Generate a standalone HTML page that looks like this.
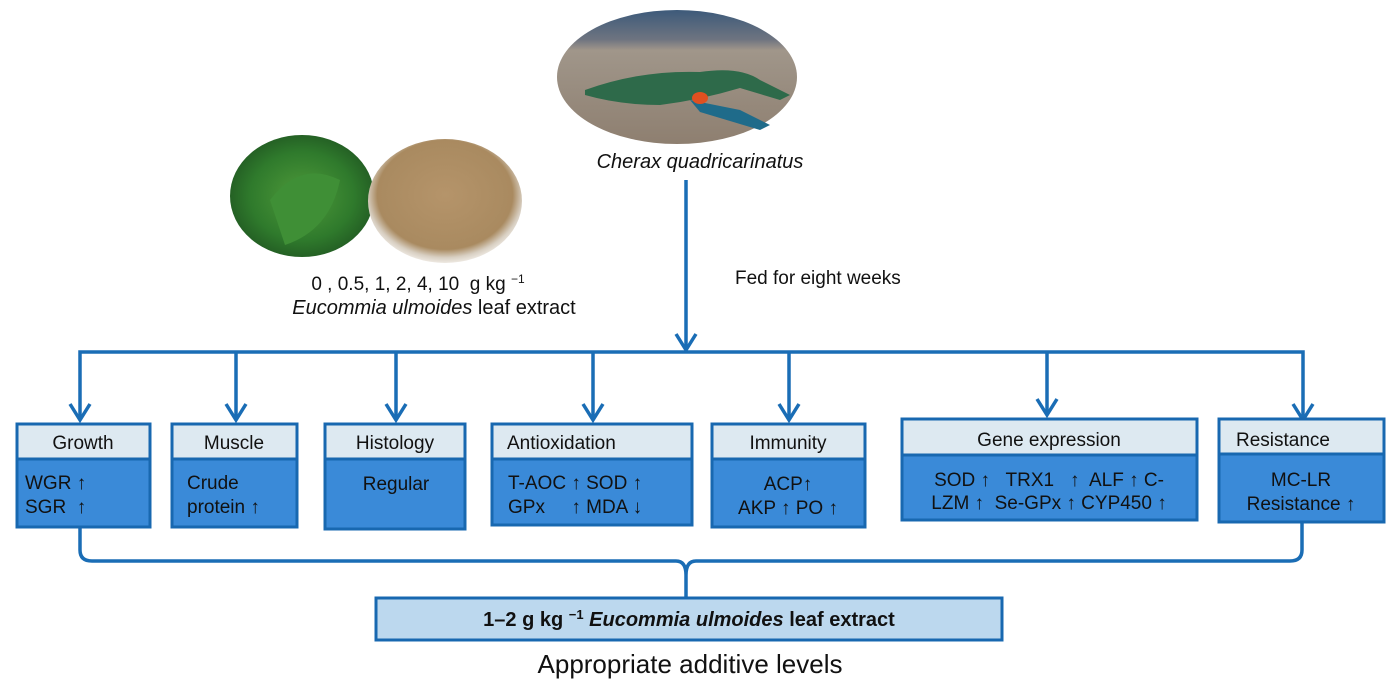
<!DOCTYPE html>
<html><head><meta charset="utf-8"><style>
html,body{margin:0;padding:0;background:#fff;}
svg{display:block;font-family:"Liberation Sans",Arial,sans-serif;}
text{white-space:pre;}
</style></head><body>
<svg width="1400" height="690" viewBox="0 0 1400 690" xmlns="http://www.w3.org/2000/svg">
<defs>
<radialGradient id="leaf" cx="50%" cy="50%" r="60%"><stop offset="0" stop-color="#4f9a3a"/><stop offset="0.6" stop-color="#2f7a2c"/><stop offset="1" stop-color="#1d4f1f"/></radialGradient>
<radialGradient id="pow" cx="50%" cy="45%" r="55%"><stop offset="0" stop-color="#b5946a"/><stop offset="0.8" stop-color="#a98a60"/><stop offset="0.92" stop-color="#d8cfc2"/><stop offset="1" stop-color="#eee9e2"/></radialGradient>
<linearGradient id="cray" x1="0" y1="0" x2="0" y2="1"><stop offset="0" stop-color="#3d5a7a"/><stop offset="0.22" stop-color="#6e7480"/><stop offset="0.3" stop-color="#a0968a"/><stop offset="1" stop-color="#8e7f70"/></linearGradient>
</defs>
<ellipse cx="677" cy="77" rx="120" ry="67" fill="url(#cray)"/>
<path d="M585 90 Q640 70 700 72 Q740 66 760 80 L790 95 L780 100 L740 88 Q700 100 660 105 Q620 105 585 95Z" fill="#2e6a4a"/>
<path d="M690 100 L740 110 L770 125 L760 130 L700 112Z" fill="#1f6b8a"/>
<ellipse cx="700" cy="98" rx="8" ry="6" fill="#e05020"/>
<ellipse cx="302" cy="196" rx="72" ry="61" fill="url(#leaf)"/>
<path d="M270 200 Q300 160 340 180 Q330 230 285 245Z" fill="#3f8f36"/>
<ellipse cx="445" cy="201" rx="77" ry="62" fill="url(#pow)"/>
<g fill="#111" font-size="19">
<text x="700" y="168" text-anchor="middle" font-style="italic" font-size="20">Cherax quadricarinatus</text>
<text x="418" y="290" text-anchor="middle">0 , 0.5, 1, 2, 4, 10  g kg <tspan font-size="12" dy="-7">−1</tspan></text>
<text x="434" y="314" text-anchor="middle" font-size="20"><tspan font-style="italic">Eucommia ulmoides</tspan> leaf extract</text>
<text x="735" y="284">Fed for eight weeks</text>
</g>
<g stroke="#1a6db5" stroke-width="3.5" fill="none">
<line x1="686" y1="180" x2="686" y2="350"/>
<polyline points="676,334 686,350 696,334"/>
<path d="M80 418 V352 H1303 V418"/>
<line x1="236" y1="352" x2="236" y2="418"/>
<line x1="396" y1="352" x2="396" y2="418"/>
<line x1="593" y1="352" x2="593" y2="418"/>
<line x1="789" y1="352" x2="789" y2="418"/>
<line x1="1047" y1="352" x2="1047" y2="413"/>
<polyline points="70,404 80,420 90,404"/>
<polyline points="226,404 236,420 246,404"/>
<polyline points="386,404 396,420 406,404"/>
<polyline points="583,404 593,420 603,404"/>
<polyline points="779,404 789,420 799,404"/>
<polyline points="1037,399 1047,415 1057,399"/>
<polyline points="1293,404 1303,420 1313,404"/>
<path d="M80 525 V550 Q80 561 92 561 H676 Q686 561 686 575 V598 M686 575 Q686 561 696 561 H1290 Q1302 561 1302 550 V523"/>
</g>
<g stroke="#1868b0" stroke-width="3">
<rect x="17" y="424" width="133" height="103" fill="#3a8ad8"/><rect x="17" y="424" width="133" height="35" fill="#dde9f1"/>
<rect x="172" y="424" width="125" height="103" fill="#3a8ad8"/><rect x="172" y="424" width="125" height="35" fill="#dde9f1"/>
<rect x="325" y="424" width="140" height="105" fill="#3a8ad8"/><rect x="325" y="424" width="140" height="35" fill="#dde9f1"/>
<rect x="492" y="424" width="200" height="101" fill="#3a8ad8"/><rect x="492" y="424" width="200" height="35" fill="#dde9f1"/>
<rect x="712" y="424" width="153" height="103" fill="#3a8ad8"/><rect x="712" y="424" width="153" height="35" fill="#dde9f1"/>
<rect x="902" y="419" width="295" height="101" fill="#3a8ad8"/><rect x="902" y="419" width="295" height="36" fill="#dde9f1"/>
<rect x="1219" y="419" width="165" height="103" fill="#3a8ad8"/><rect x="1219" y="419" width="165" height="35" fill="#dde9f1"/>
<rect x="376" y="598" width="626" height="42" fill="#bcd8ee"/>
</g>
<g fill="#111" font-size="19">
<text x="83" y="449" text-anchor="middle">Growth</text>
<text x="234" y="449" text-anchor="middle">Muscle</text>
<text x="395" y="449" text-anchor="middle">Histology</text>
<text x="507" y="449">Antioxidation</text>
<text x="788" y="449" text-anchor="middle">Immunity</text>
<text x="1049" y="446" text-anchor="middle">Gene expression</text>
<text x="1236" y="446">Resistance</text>
<text x="25" y="489">WGR ↑</text><text x="25" y="513">SGR  ↑</text>
<text x="187" y="489">Crude</text><text x="187" y="513">protein ↑</text>
<text x="396" y="490" text-anchor="middle">Regular</text>
<text x="508" y="489">T-AOC ↑ SOD ↑</text><text x="508" y="513">GPx     ↑ MDA ↓</text>
<text x="788" y="490" text-anchor="middle">ACP↑</text><text x="788" y="514" text-anchor="middle">AKP ↑ PO ↑</text>
<text x="1049" y="486" text-anchor="middle">SOD ↑   TRX1   ↑  ALF ↑ C-</text><text x="1049" y="509" text-anchor="middle">LZM ↑  Se-GPx ↑ CYP450 ↑</text>
<text x="1301" y="486" text-anchor="middle">MC-LR</text><text x="1301" y="510" text-anchor="middle">Resistance ↑</text>
<text x="689" y="626" text-anchor="middle" font-weight="bold" font-size="20">1–2 g kg <tspan font-size="13" dy="-7">−1</tspan><tspan dy="7" font-style="italic"> Eucommia ulmoides</tspan> leaf extract</text>
<text x="690" y="673" text-anchor="middle" font-size="26">Appropriate additive levels</text>
</g>
</svg>
</body></html>
